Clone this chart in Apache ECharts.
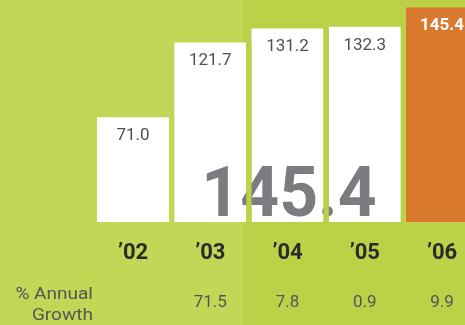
<!DOCTYPE html>
<html><head><meta charset="utf-8">
<script src="https://cdn.jsdelivr.net/npm/echarts@6/dist/echarts.min.js"></script>
<style>html,body{margin:0;padding:0;background:#c3d656;}#c{width:465px;height:325px;}</style>
</head><body><div id="c"></div>
<script>
const categories = ['’02', '’03', '’04', '’05', '’06'];
const values = [71.0, 121.7, 131.2, 132.3, 145.4];
const growth = ['', '71.5', '7.8', '0.9', '9.9'];
const growthTitle = '% Annual\nGrowth';
const headline = '145.4';

const LIGHT = '#c3d656', DARK = '#bcd148', SPLIT_X = 243;
const FONT = 'Roboto, "DejaVu Sans", sans-serif';

const chart = echarts.init(document.getElementById('c'));
const gapData = values.slice(0, -1).map((v, i) => [i, Math.min(v, values[i + 1])]);

chart.setOption({
  animation: false,
  backgroundColor: 'transparent',
  grid: { left: 94.4, right: -15.65, top: 0.75, bottom: 103, containLabel: false, outerBoundsMode: 'none' },
  xAxis: [{
    type: 'category', data: categories, position: 'bottom',
    axisLine: { show: false }, axisTick: { show: false }, splitLine: { show: false },
    axisLabel: { margin: 31, verticalAlign: 'middle', fontFamily: FONT, fontWeight: 'bold', fontSize: 22, color: '#2b2b2b' }
  }, {
    type: 'category', data: growth, position: 'bottom',
    axisLine: { show: false }, axisTick: { show: false }, splitLine: { show: false },
    axisLabel: { margin: 81, verticalAlign: 'middle', fontFamily: FONT, fontSize: 17, color: '#555' }
  }],
  yAxis: { type: 'value', min: 0, max: 150, show: false, splitLine: { show: false } },
  graphic: [
    { type: 'rect', z: -10, silent: true, shape: { x: 0, y: 0, width: SPLIT_X, height: 325 }, style: { fill: LIGHT } },
    { type: 'rect', z: -10, silent: true, shape: { x: SPLIT_X, y: 0, width: 465 - SPLIT_X, height: 325 }, style: { fill: DARK } },
    { type: 'text', z: 5, silent: true, x: 289, y: 198.5, scaleX: 0.97,
      style: { text: headline, x: 0, y: 0, align: 'center', verticalAlign: 'middle', fontFamily: FONT, fontWeight: 'bold', fontSize: 70, fill: '#7c7b80' } },
    { type: 'text', z: 5, silent: true, x: 93, y: 305, scaleX: 1.12,
      style: { text: growthTitle, align: 'right', verticalAlign: 'middle', lineHeight: 21.5, fontFamily: FONT, fontSize: 17, fill: '#555' } }
  ],
  series: [{
    type: 'bar', z: 2, barWidth: 72,
    data: values.map((v, i) => ({
      value: v,
      itemStyle: { color: i === values.length - 1 ? '#d9792e' : '#ffffff' },
      label: i === values.length - 1 ? { color: '#ffffff', fontWeight: 'bold' } : {}
    })),
    label: { show: true, position: 'insideTop', distance: 10, fontFamily: FONT, fontSize: 17, color: '#505050',
      formatter: p => p.value.toFixed(1) }
  }, {
    type: 'custom', z: 10, silent: true,
    data: gapData,
    renderItem: function (params, api) {
      const i = api.value(0);
      const a = api.coord([i, 0]);
      const b = api.coord([i + 1, 0]);
      const top = api.coord([i, api.value(1)]);
      const catW = api.size([1, 0])[0];
      const gap = catW - 72;
      const cx = (a[0] + b[0]) / 2;
      return { type: 'rect', shape: { x: cx - gap / 2, y: top[1], width: gap, height: a[1] - top[1] },
        style: { fill: cx < SPLIT_X ? LIGHT : DARK } };
    }
  }]
});
</script></body></html>
